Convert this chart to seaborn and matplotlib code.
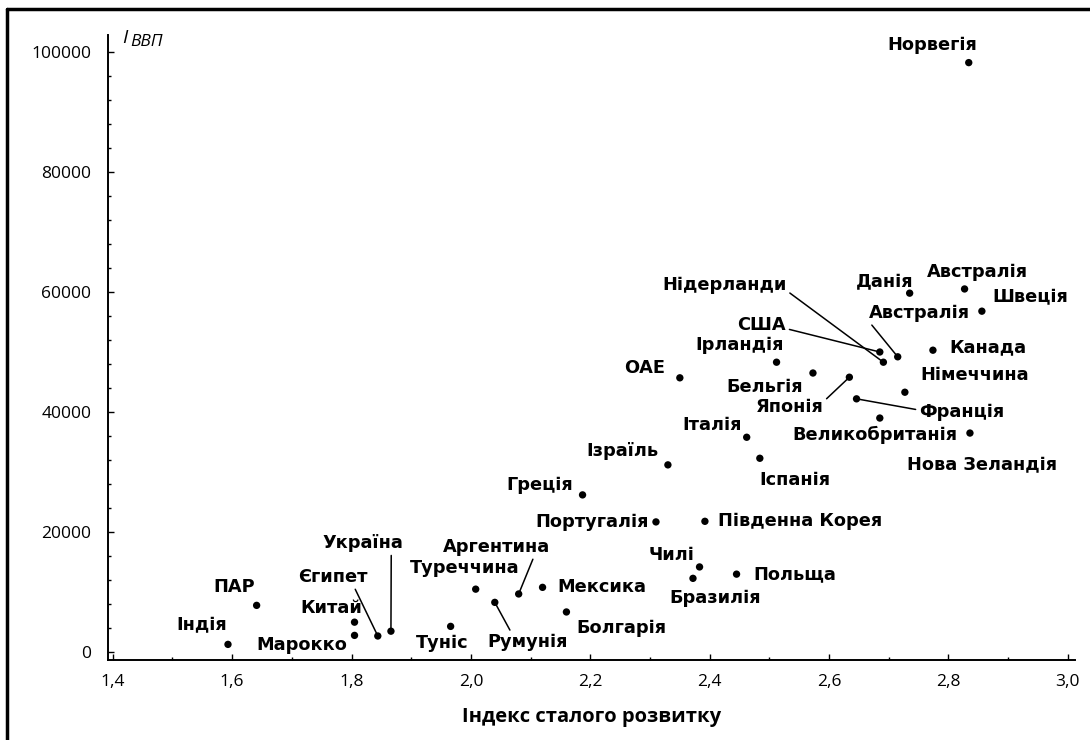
import numpy as np
import pandas as pd
import matplotlib
matplotlib.use("Agg")
import matplotlib.pyplot as plt
from matplotlib.lines import Line2D
from matplotlib.ticker import MultipleLocator, FuncFormatter
import seaborn as sns

# data
countries = ["Норвегія", "Данія", "Австралія", "Швеція", "Австралія", "Нідерланди", "США",
             "Канада", "Ірландія", "ОАЕ", "Бельгія", "Японія", "Німеччина", "Франція",
             "Великобританія", "Нова Зеландія", "Італія", "Іспанія", "Ізраїль", "Греція",
             "Португалія", "Південна Корея", "Чилі", "Бразилія", "Польща", "Мексика",
             "Болгарія", "Аргентина", "Туреччина", "Румунія", "Туніс", "Україна", "Єгипет",
             "Китай", "Марокко", "ПАР", "Індія"]
index_sd = [2.834, 2.735, 2.827, 2.856, 2.715, 2.691, 2.685,
            2.774, 2.512, 2.350, 2.573, 2.634, 2.727, 2.646,
            2.685, 2.836, 2.462, 2.484, 2.330, 2.187,
            2.310, 2.392, 2.383, 2.372, 2.445, 2.120,
            2.160, 2.080, 2.008, 2.040, 1.966, 1.866, 1.844,
            1.805, 1.805, 1.641, 1.593]
gdp = [98200, 59800, 60500, 56800, 49200, 48300, 50000,
       50300, 48300, 45700, 46500, 45800, 43300, 42200,
       39000, 36500, 35800, 32300, 31200, 26200,
       21700, 21800, 14200, 12300, 13000, 10800,
       6700, 9700, 10500, 8300, 4300, 3500, 2700,
       5000, 2800, 7800, 1300]

df = pd.DataFrame({"country": countries, "isr": index_sd, "gdp": gdp})

# label placement: (dx, dy) in pixels, relpos for leader line or None
label_pos = [(-36, 18, None), (-25, 11, None), (13, 17, None), (48, 14, None), (22, 44, (0.0, 0.0)),
             (-159, 77, (1.0, 0.2)), (-118, 27, (1.0, 0.3)), (55, 3, None), (-37, 17, None),
             (-35, 10, None), (-48, -14, None), (-60, -30, (1.0, 0.8)), (70, 17, None),
             (105, -13, (0.0, 0.6)), (-5, -17, None), (12, -32, None), (-35, 12, None),
             (35, -22, None), (-45, 14, None), (-43, 10, None), (-64, 0, None), (95, 0, None),
             (-28, 12, None), (22, -20, None), (58, 0, None), (59, 0, None), (55, -16, None),
             (-22, 47, (0.85, 0.0)), (-11, 21, None), (33, -40, (0.3, 1.0)), (-8, -17, None),
             (-28, 88, (0.85, 0.0)), (-45, 59, (0.8, 0.0)), (-23, 14, None), (-53, -10, None),
             (-22, 18, None), (-26, 19, None)]

sns.set_style("white")
plt.rcParams["font.family"] = ["Open Sans", "DejaVu Sans"]
plt.rcParams["text.color"] = "black"
plt.rcParams["axes.labelcolor"] = "black"
plt.rcParams["xtick.color"] = "black"
plt.rcParams["ytick.color"] = "black"

fig = plt.figure(figsize=(10.9, 7.4), dpi=100)
ax = fig.add_axes([108 / 1090, 1 - 660 / 740, (1075 - 108) / 1090, (660 - 35) / 740])

sns.scatterplot(data=df, x="isr", y="gdp", ax=ax, color="black", s=28,
                edgecolor="none", legend=False)

for i, row in df.iterrows():
    dx, dy, rel = label_pos[i]
    kw = {}
    if rel is not None:
        kw["arrowprops"] = dict(arrowstyle="-", color="black", lw=1.1,
                                shrinkA=0, shrinkB=2, relpos=rel)
    ax.annotate(row["country"], (row["isr"], row["gdp"]), xytext=(dx, dy),
                textcoords="offset pixels", ha="center", va="center", color="black",
                fontsize=12.8, fontweight="bold", family="DejaVu Sans", **kw)

ax.set_xlim(1.392, 3.012)
ax.set_ylim(-1300, 102800)
ax.xaxis.set_major_locator(MultipleLocator(0.2))
ax.xaxis.set_minor_locator(MultipleLocator(0.1))
ax.yaxis.set_major_locator(MultipleLocator(20000))
ax.yaxis.set_minor_locator(MultipleLocator(4000))
ax.xaxis.set_major_formatter(FuncFormatter(lambda v, p: f"{v:.1f}".replace(".", ",")))
ax.yaxis.set_major_formatter(FuncFormatter(lambda v, p: f"{v:.0f}"))
ax.tick_params(which="both", direction="in", colors="black", labelsize=12.5, bottom=True, left=True)
ax.tick_params(which="major", length=4, width=1)
ax.tick_params(which="minor", length=2.5, width=1)
ax.tick_params(axis="x", pad=10)
ax.tick_params(axis="y", pad=12)

sns.despine(ax=ax)
for side in ["left", "bottom"]:
    ax.spines[side].set_color("black")
    ax.spines[side].set_linewidth(1.4)

ax.set_xlabel("Індекс сталого розвитку", fontsize=14.5, fontweight="bold", labelpad=12)
ax.set_ylabel("")

fig.text(122 / 1090, 1 - 43 / 740, "I", fontsize=14, style="italic", va="baseline")
fig.text(130 / 1090, 1 - 46 / 740, "ВВП", fontsize=12.5, style="italic", va="baseline")

# outer frame (top and left edges)
fig.add_artist(Line2D([7 / 1090, 7 / 1090], [0, 1 - 9 / 740], color="black", lw=2.5))
fig.add_artist(Line2D([7 / 1090, 1], [1 - 9 / 740, 1 - 9 / 740], color="black", lw=2.5))

fig.savefig("out.png", dpi=100)
